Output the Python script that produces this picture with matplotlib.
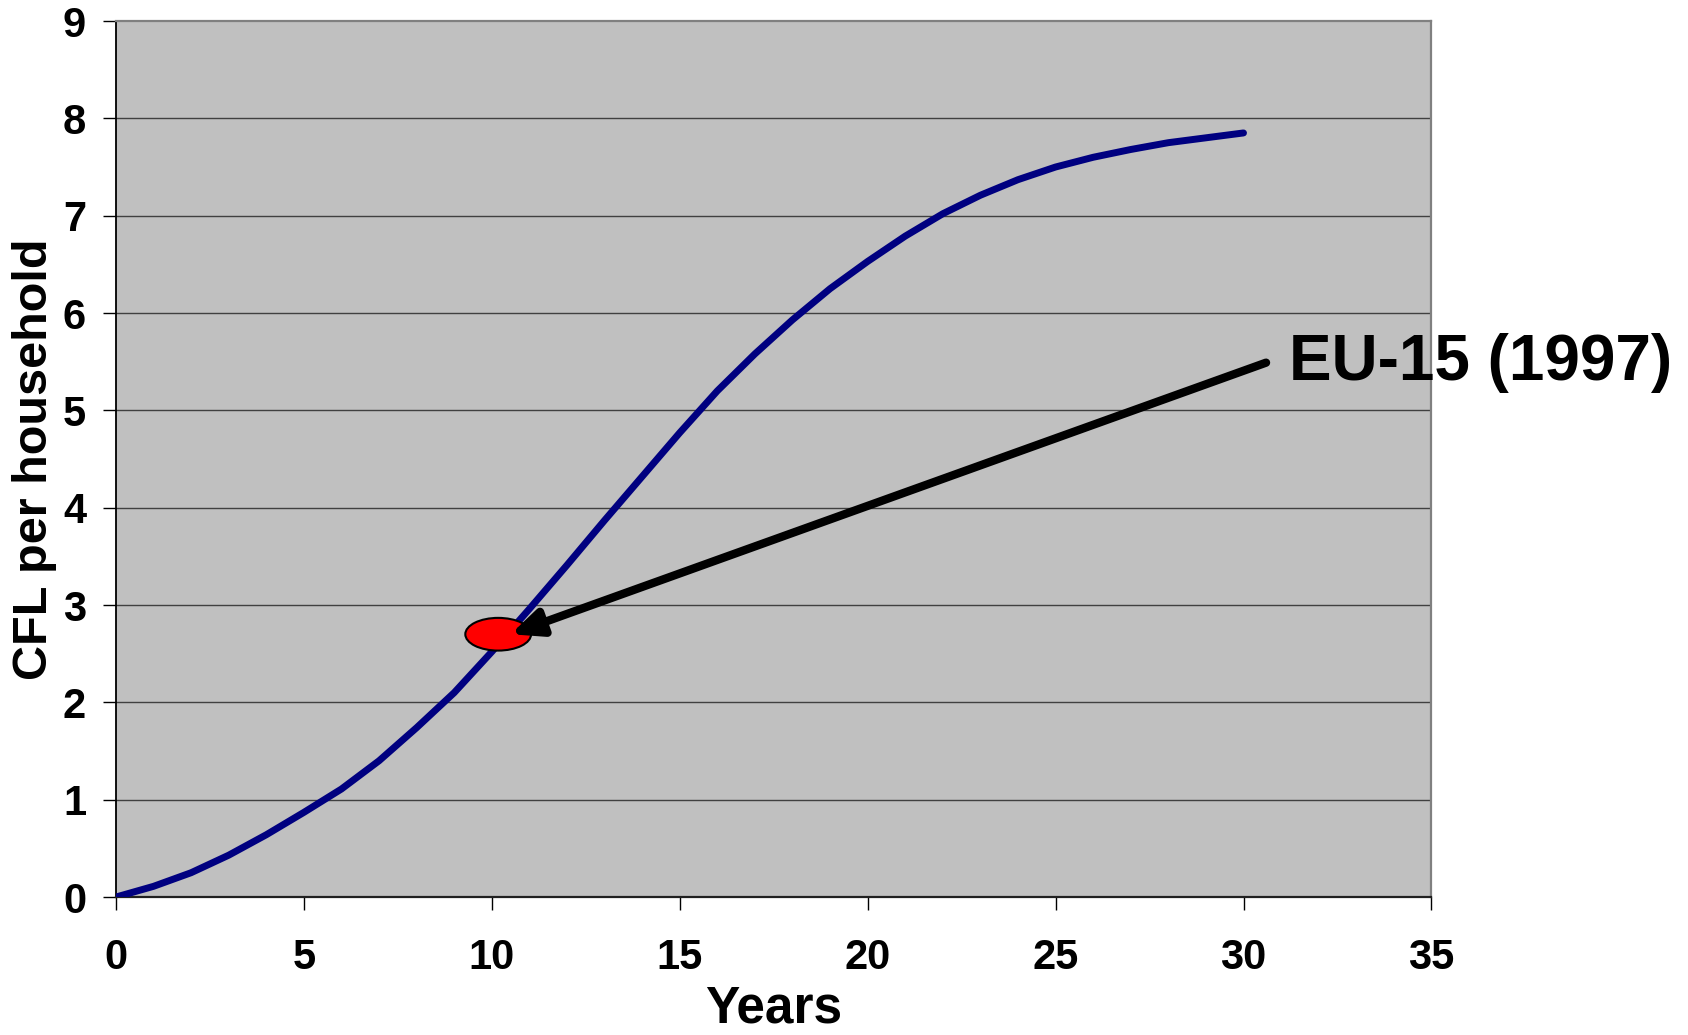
"""CFL per household diffusion curve with EU-15 (1997) marker."""

import matplotlib

matplotlib.use("Agg")
import matplotlib.pyplot as plt
from matplotlib.patches import Ellipse

plt.rcParams["font.family"] = ["Liberation Sans", "DejaVu Sans"]
plt.rcParams["font.weight"] = "bold"

# data
years = list(range(0, 31))
cfl_per_household = [
    0.00, 0.11, 0.25, 0.43, 0.64, 0.87, 1.11, 1.40, 1.74, 2.10,
    2.52, 2.96, 3.41, 3.87, 4.32, 4.77, 5.20, 5.58, 5.93, 6.25,
    6.53, 6.79, 7.02, 7.21, 7.37, 7.50, 7.60, 7.68, 7.75, 7.80,
    7.85,
]
eu15_point = (10.17, 2.70)
eu15_label = "EU-15 (1997)"
arrow_tip = (10.5, 2.70)
arrow_tail = (30.6, 5.49)
label_pos = (31.2, 5.49)
x_ticks = [0, 5, 10, 15, 20, 25, 30, 35]
y_ticks = [0, 1, 2, 3, 4, 5, 6, 7, 8, 9]

fig = plt.figure(figsize=(16.88, 10.35), dpi=100)
ax = fig.add_axes([0.0687, 0.1333, 0.7793, 0.8464])
ax.set_facecolor("#C0C0C0")

for y in y_ticks[1:-1]:
    ax.axhline(y, color="#404040", lw=1.0, zorder=1)

ax.plot(years, cfl_per_household, color="#000080", lw=5,
        solid_capstyle="round", solid_joinstyle="round", zorder=3)

ax.add_patch(Ellipse(eu15_point, width=1.75, height=0.336,
                     facecolor="#FF0000", edgecolor="black", lw=1.5, zorder=4))

ax.annotate("", xy=arrow_tip, xytext=arrow_tail,
            arrowprops=dict(arrowstyle="-|>,head_length=0.9,head_width=0.4",
                            color="black", lw=6, mutation_scale=20,
                            shrinkA=0, shrinkB=0),
            zorder=5)
ax.text(label_pos[0], label_pos[1], eu15_label, fontsize=46, fontweight="bold",
        ha="left", va="center", clip_on=False)

ax.set_xlim(0, 35)
ax.set_ylim(0, 9)
ax.set_xticks(x_ticks)
ax.set_yticks(y_ticks)
ax.tick_params(axis="both", direction="out", length=9.5, width=1.0,
               colors="black", labelsize=30)
ax.tick_params(axis="x", pad=20)
ax.tick_params(axis="y", pad=12)
for lbl in ax.get_xticklabels() + ax.get_yticklabels():
    lbl.set_fontweight("bold")

ax.set_xlabel("Years", fontsize=37, fontweight="bold", labelpad=5)
ax.set_ylabel("CFL per household", fontsize=35, fontweight="bold", labelpad=4)

ax.spines["left"].set_color("black")
ax.spines["left"].set_linewidth(1.3)
ax.spines["bottom"].set_color("#202020")
ax.spines["bottom"].set_linewidth(1.6)
for side in ("top", "right"):
    ax.spines[side].set_color("#808080")
    ax.spines[side].set_linewidth(1.6)

fig.savefig("out.png", dpi=100)
plt.close(fig)
